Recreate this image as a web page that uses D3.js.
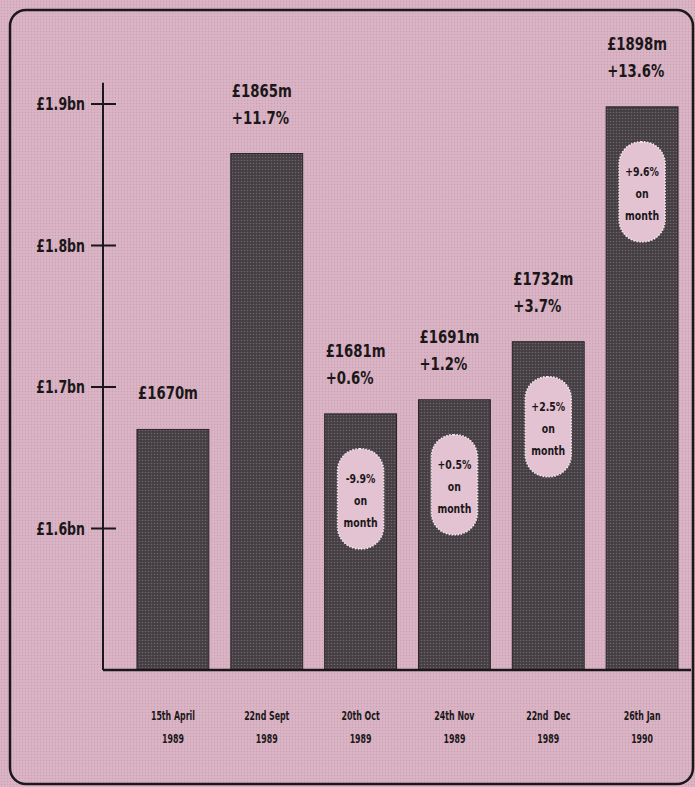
<!DOCTYPE html>
<html>
<head>
<meta charset="utf-8">
<script src="https://cdn.jsdelivr.net/npm/d3@7"></script>
<style>
  html, body { margin: 0; padding: 0; background: #d9b2c3; }
  svg { display: block; }
  text { font-family: "DejaVu Sans Condensed", "Liberation Sans Narrow", "DejaVu Sans", sans-serif; font-weight: bold; fill: #1b1719; }
</style>
</head>
<body>
<div class="chart"></div>
<script>
let width = 695
let height = 787

// data
const dates = ["15th April", "22nd Sept", "20th Oct", "24th Nov", "22nd  Dec", "26th Jan"]
const years = ["1989", "1989", "1989", "1989", "1989", "1990"]
const values = [1670, 1865, 1681, 1691, 1732, 1898]
const yearChange = [null, "+11.7%", "+0.6%", "+1.2%", "+3.7%", "+13.6%"]
const monthChange = [null, null, "-9.9%", "+0.5%", "+2.5%", "+9.6%"]
const tickValues = [1600, 1700, 1800, 1900]
const tickLabels = ["£1.6bn", "£1.7bn", "£1.8bn", "£1.9bn"]

const data = dates.map((d, i) => ({
  date: d, year: years[i], value: values[i],
  year_change: yearChange[i], month_change: monthChange[i]
}))

const svg = d3.select(".chart")
  .append("svg")
  .attr("width", width)
  .attr("height", height)

// halftone-ish textures
const defs = svg.append("defs")
const bgPat = defs.append("pattern")
  .attr("id", "bgDots")
  .attr("width", 3).attr("height", 3)
  .attr("patternUnits", "userSpaceOnUse")
bgPat.append("rect").attr("width", 3).attr("height", 3).attr("fill", "#dab3c4")
bgPat.append("circle").attr("cx", 1.5).attr("cy", 1.5).attr("r", 0.7).attr("fill", "#c7a2b3")

const barPat = defs.append("pattern")
  .attr("id", "barDots")
  .attr("width", 3).attr("height", 3)
  .attr("patternUnits", "userSpaceOnUse")
barPat.append("rect").attr("width", 3).attr("height", 3).attr("fill", "#443e42")
barPat.append("circle").attr("cx", 1.5).attr("cy", 1.5).attr("r", 0.8).attr("fill", "#6e666b")

svg.append("rect")
  .attr("width", width).attr("height", height)
  .attr("fill", "url(#bgDots)")

// frame
svg.append("rect")
  .attr("x", 10).attr("y", 10)
  .attr("width", 683).attr("height", 774)
  .attr("rx", 16)
  .attr("fill", "none")
  .attr("stroke", "#1c1819")
  .attr("stroke-width", 2.5)

const x = d3.scaleBand()
  .domain(dates)
  .range([126, 689])
  .paddingInner(0.234)
  .paddingOuter(0.117)

const y = d3.scaleLinear()
  .domain([1500, 1900])
  .range([670, 104])

const mid = d => x(d.date) + x.bandwidth() / 2

// axis
svg.append("line")
  .attr("x1", 103).attr("x2", 103)
  .attr("y1", y(1915)).attr("y2", y(1500))
  .attr("stroke", "#1b1719").attr("stroke-width", 2)

svg.selectAll("yTicks")
  .data(tickValues)
  .enter()
  .append("line")
  .attr("x1", 91).attr("x2", 116)
  .attr("y1", d => y(d)).attr("y2", d => y(d))
  .attr("stroke", "#1b1719").attr("stroke-width", 2)

svg.selectAll("yLabels")
  .data(tickValues)
  .enter()
  .append("text")
  .attr("transform", d => `translate(85,${y(d) + 6}) scale(0.82,1)`)
  .attr("text-anchor", "end")
  .style("font-size", "17px")
  .text((d, i) => tickLabels[i])

// bars
svg.selectAll("bars")
  .data(data)
  .enter()
  .append("rect")
  .attr("x", d => x(d.date))
  .attr("y", d => y(d.value))
  .attr("width", x.bandwidth())
  .attr("height", d => y(1500) - y(d.value))
  .attr("fill", "url(#barDots)")
  .attr("stroke", "#2a2427")
  .attr("stroke-width", 1)

// baseline
svg.append("line")
  .attr("x1", 103).attr("x2", 691)
  .attr("y1", y(1500)).attr("y2", y(1500))
  .attr("stroke", "#1b1719").attr("stroke-width", 2.5)

// value labels above bars
const lbl = svg.selectAll("valueLabels")
  .data(data)
  .enter()
  .append("text")
  .attr("transform", d => `translate(${x(d.date) + 1},0) scale(0.82,1)`)
  .style("font-size", "18px")

lbl.append("tspan")
  .attr("x", 0)
  .attr("y", d => y(d.value) - (d.year_change ? 57 : 30))
  .text(d => `£${d.value}m`)
lbl.filter(d => d.year_change)
  .append("tspan")
  .attr("x", 0)
  .attr("y", d => y(d.value) - 30)
  .text(d => d.year_change)

// month-on-month pills
const pills = svg.selectAll("pills")
  .data(data.filter(d => d.month_change))
  .enter()
  .append("g")
  .attr("transform", d => `translate(${mid(d)},${y(d.value) + 35})`)

pills.append("rect")
  .attr("x", -23).attr("y", 0)
  .attr("width", 46).attr("height", 100)
  .attr("rx", 22)
  .attr("fill", "#e3c2d2")
  .attr("stroke", "#f5eaef")
  .attr("stroke-width", 1.6)
  .attr("stroke-dasharray", "1.5,1.5")

pills.append("text")
  .attr("text-anchor", "middle")
  .attr("transform", "scale(0.8,1)")
  .style("font-size", "13px")
  .selectAll("tspan")
  .data(d => [d.month_change, "on", "month"])
  .enter()
  .append("tspan")
  .attr("x", 0)
  .attr("y", (d, i) => 34 + i * 22)
  .text(d => d)

// x labels
const xl = svg.selectAll("xLabels")
  .data(data)
  .enter()
  .append("text")
  .attr("text-anchor", "middle")
  .attr("transform", d => `translate(${mid(d)},0) scale(0.7,1)`)
  .style("font-size", "12.5px")

xl.append("tspan")
  .attr("x", 0)
  .attr("y", 720)
  .attr("xml:space", "preserve")
  .text(d => d.date)
xl.append("tspan")
  .attr("x", 0)
  .attr("y", 743)
  .text(d => d.year)
</script>
</body>
</html>
